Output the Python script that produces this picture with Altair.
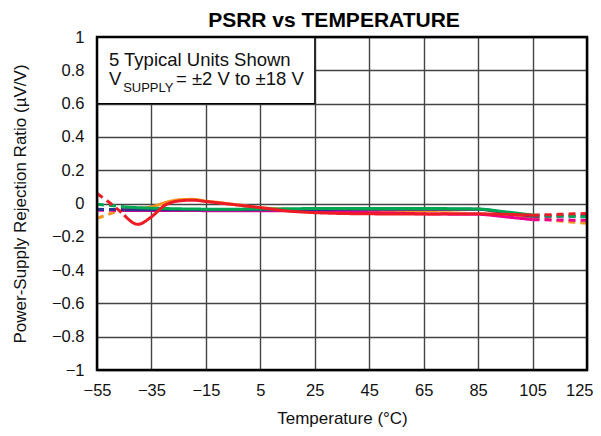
import altair as alt
import pandas as pd

temps = [-55, -50, -45, -40, -35, -30, -25, -20, -15, -10, -5, 5, 15, 25, 35, 45, 55, 65, 75, 85, 95, 105, 110, 115, 120, 125]

red     = [0.06, 0.0, -0.07, -0.125, -0.08, -0.01, 0.015, 0.02, 0.012, 0.003, -0.006, -0.025, -0.045, -0.055, -0.06, -0.062, -0.063, -0.063, -0.062, -0.062, -0.065, -0.07, -0.068, -0.065, -0.062, -0.06]
orange  = [-0.09, -0.06, -0.035, -0.03, -0.02, 0.005, 0.022, 0.025, 0.015, 0.005, -0.005, -0.025, -0.035, -0.04, -0.042, -0.043, -0.043, -0.042, -0.04, -0.035, -0.06, -0.088, -0.095, -0.105, -0.112, -0.118]
green   = [-0.005, -0.012, -0.02, -0.025, -0.028, -0.03, -0.032, -0.033, -0.034, -0.034, -0.034, -0.033, -0.032, -0.03, -0.03, -0.03, -0.03, -0.03, -0.031, -0.033, -0.05, -0.07, -0.072, -0.075, -0.078, -0.08]
magenta = [-0.04, -0.041, -0.042, -0.042, -0.042, -0.042, -0.042, -0.042, -0.043, -0.043, -0.043, -0.043, -0.044, -0.045, -0.05, -0.055, -0.058, -0.062, -0.064, -0.065, -0.08, -0.097, -0.098, -0.099, -0.1, -0.1]
blue    = [-0.035, -0.036, -0.037, -0.038, -0.038, -0.038, -0.038, -0.038, -0.038, -0.038, -0.038, -0.038, -0.037, -0.036, -0.035, -0.035, -0.035, -0.035, -0.035, -0.035, -0.055, -0.077, -0.076, -0.076, -0.075, -0.075]

series = {"orange": orange, "magenta": magenta, "blue": blue, "green": green, "red": red}
colors = {"orange": "#F7941D", "magenta": "#EC008C", "blue": "#2E3192", "green": "#00A651", "red": "#ED1C24"}

x_ticks = [-55, -35, -15, 5, 25, 45, 65, 85, 105, 125]
y_ticks = [-1, -0.8, -0.6, -0.4, -0.2, 0, 0.2, 0.4, 0.6, 0.8, 1]

rows = []
for name, vals in series.items():
    for t, v in zip(temps, vals):
        if t <= -45:
            rows.append({"s": name, "t": t, "v": v, "seg": "L", "style": "dash"})
        if -45 <= t <= 105:
            rows.append({"s": name, "t": t, "v": v, "seg": "M", "style": "solid"})
        if t >= 105:
            rows.append({"s": name, "t": t, "v": v, "seg": "R", "style": "dash"})
df = pd.DataFrame(rows)

xscale = alt.Scale(domain=[-55, 125], nice=False, zero=False)
yscale = alt.Scale(domain=[-1, 1], nice=False, zero=False)

xaxis = alt.Axis(values=x_ticks, grid=True, tickSize=0, labelPadding=12,
                 titlePadding=12, domain=False, labelFlush=False, labelOverlap=False,
                 labelAlign={"condition": {"test": "datum.value == 125", "value": "right"}, "value": "center"},
                 labelOffset={"condition": {"test": "datum.value == 125", "value": 6}, "value": 0})
yaxis = alt.Axis(values=y_ticks, grid=True, tickSize=0, labelPadding=13,
                 format=".1~f", titlePadding=22, domain=False, labelFlush=False,
                 labelOverlap=False)
XT = "Temperature (°C)"
YT = "Power-Supply Rejection Ratio (µV/V)"

def X(f):
    return alt.X(f, type="quantitative", scale=xscale, axis=xaxis, title=XT)

def Y(f):
    return alt.Y(f, type="quantitative", scale=yscale, axis=yaxis, title=YT)

box_df = pd.DataFrame({"x": [-55], "x2": [25], "y": [1], "y2": [0.6]})
box = alt.Chart(box_df).mark_rect(fill="white", stroke="black", strokeWidth=1.2).encode(
    x=X("x"), x2="x2", y=Y("y"), y2="y2")

layers = [box]
for name in series:
    layers.append(
        alt.Chart(df).transform_filter(alt.datum.s == name).mark_line(
            strokeWidth=3, interpolate="monotone", color=colors[name]
        ).encode(
            x=X("t"), y=Y("v"),
            detail="seg:N",
            strokeDash=alt.StrokeDash("style:N", scale=alt.Scale(domain=["solid", "dash"], range=[[1, 0], [7, 5]]), legend=None),
        )
    )

ann1 = pd.DataFrame({"x": [-50.6], "y": [0.826], "txt": ["5 Typical Units Shown"]})
ann2 = pd.DataFrame({"x": [-50.6], "y": [0.712], "txt": ["V"]})
ann3 = pd.DataFrame({"x": [-45.4], "y": [0.671], "txt": ["SUPPLY"]})
ann4 = pd.DataFrame({"x": [-26.0], "y": [0.712], "txt": ["= ±2 V to ±18 V"]})

def txt(d, size):
    return alt.Chart(d).mark_text(align="left", baseline="alphabetic", fontSize=size,
                                  font="Liberation Sans", color="#111").encode(
        x=X("x"), y=Y("y"), text="txt:N")

layers += [txt(ann1, 18.5), txt(ann2, 18.5), txt(ann3, 13), txt(ann4, 18.5)]

frame_df = pd.DataFrame({"x": [-55], "x2": [125], "y": [-1], "y2": [1]})
frame = alt.Chart(frame_df).mark_rect(fillOpacity=0, stroke="black", strokeWidth=2.5).encode(
    x=X("x"), x2="x2", y=Y("y"), y2="y2")
layers.append(frame)

chart = alt.layer(*layers).properties(
    width=490, height=333,
    title=alt.TitleParams("PSRR vs TEMPERATURE", fontSize=21, font="Liberation Sans",
                          fontWeight="bold", anchor="middle", offset=-2, dx=-8, color="black"),
    autosize=alt.AutoSizeParams(type="none"),
    padding={"left": 89, "top": 29, "right": 6, "bottom": 58},
).configure_view(stroke=None).configure_axis(
    labelFont="Liberation Sans", titleFont="Liberation Sans", labelFontSize=16.5,
    titleFontSize=17, titleFontWeight="normal", labelColor="#111", titleColor="#111",
    gridColor="#444", gridWidth=1.4, gridOpacity=1,
)

chart.save("out.html", embed_options={"renderer": "svg", "actions": False})
